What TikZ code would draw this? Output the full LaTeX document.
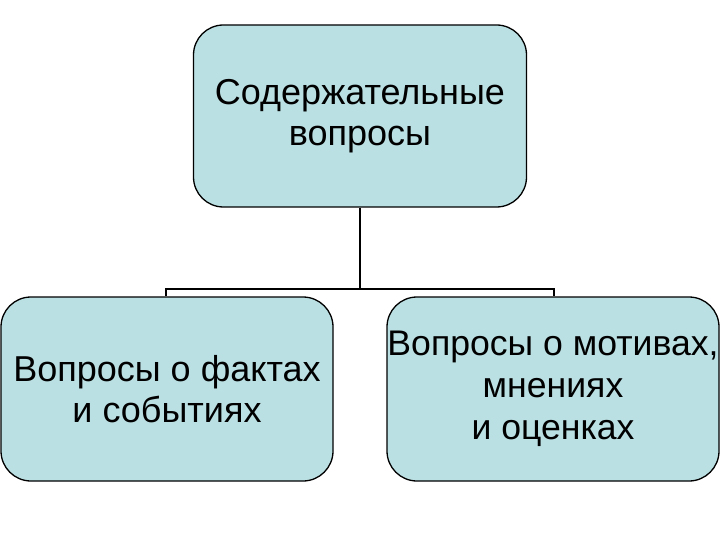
\documentclass[tikz,border=0pt]{standalone}
\usepackage{fontspec}
\setmainfont{Liberation Sans}
\definecolor{boxfill}{RGB}{187,224,227}
\begin{document}
\begin{tikzpicture}[x=1pt,y=-1pt,
  box/.style={draw, line width=1.3pt, fill=boxfill, rounded corners=30pt,
    align=center, inner sep=0pt, font=\fontsize{36}{41.5}\selectfont},
  conn/.style={line width=1.6pt}]
\useasboundingbox (0,0) rectangle (720,540);
\node[box, minimum width=333pt, minimum height=182pt] (top) at (360,116) {Содержательные\\вопросы};
\node[box, minimum width=332pt, minimum height=184pt] (left) at (167,389) {Вопросы о фактах\\и событиях};
\node[box, minimum width=332pt, minimum height=184pt, font=\fontsize{35.6}{42}\selectfont] (right) at (553,389) {Вопросы о мотивах,\\мнениях\\и оценках};
\coordinate (j) at (360,289);
\coordinate (lj) at (166,289);
\coordinate (rj) at (554,289);
\draw[conn] (top.south) -- (j);
\draw[conn] (lj |- left.north) -- (lj) -- (rj) -- (rj |- right.north);
\end{tikzpicture}
\end{document}
